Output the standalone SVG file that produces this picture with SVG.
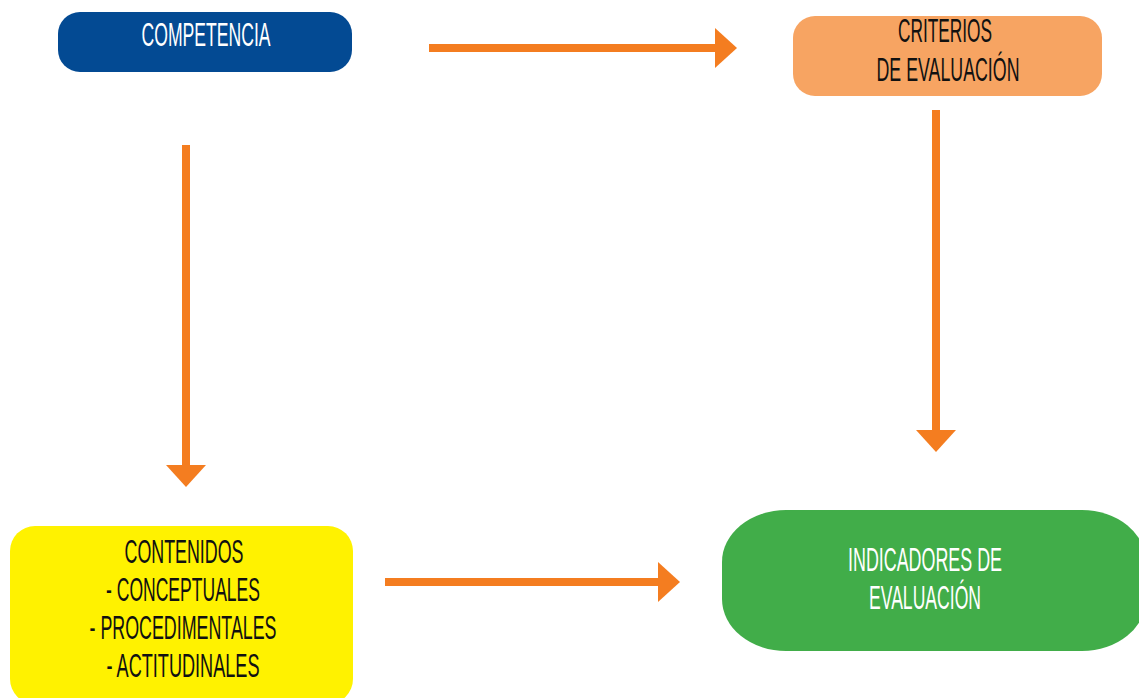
<svg xmlns="http://www.w3.org/2000/svg" width="1139" height="698" viewBox="0 0 1139 698">
  <style>
    .lbl { font-family: "Liberation Sans", Arial, sans-serif; font-size: 33px; text-anchor: middle; }
    .w { fill: #ffffff; }
    .k { fill: #111111; }
    .conn { stroke: #f47d20; stroke-width: 8; fill: none; }
  </style>
  <defs>
    <marker id="ah" markerUnits="userSpaceOnUse" markerWidth="22" markerHeight="40" refX="0" refY="20" orient="auto" overflow="visible">
      <path d="M0,0 L22,20 L0,40 Z" fill="#f47d20"/>
    </marker>
  </defs>
  <rect width="1139" height="698" fill="#ffffff"/>

  <g id="connectors">
    <path class="conn" d="M429,48 L715,48" marker-end="url(#ah)"/>
    <path class="conn" d="M186,145 L186,465" marker-end="url(#ah)"/>
    <path class="conn" d="M936,110 L936,430" marker-end="url(#ah)"/>
    <path class="conn" d="M385,582 L658,582" marker-end="url(#ah)"/>
  </g>

  <g id="competencia">
    <rect x="58" y="12" width="294" height="60" rx="22" ry="22" fill="#034a93"/>
    <text class="lbl w" x="206" y="46" textLength="129" lengthAdjust="spacingAndGlyphs">COMPETENCIA</text>
  </g>

  <g id="criterios">
    <rect x="793" y="16" width="309" height="80" rx="22" ry="22" fill="#f7a462"/>
    <text class="lbl k" x="945" y="42" textLength="94" lengthAdjust="spacingAndGlyphs">CRITERIOS</text>
    <text class="lbl k" x="948" y="81" textLength="143" lengthAdjust="spacingAndGlyphs">DE EVALUACIÓN</text>
  </g>

  <g id="contenidos">
    <rect x="10" y="526" width="343" height="178" rx="25" ry="25" fill="#fff200"/>
    <text class="lbl k" x="184" y="563" textLength="119" lengthAdjust="spacingAndGlyphs">CONTENIDOS</text>
    <text class="lbl k" x="183" y="601" textLength="154" lengthAdjust="spacingAndGlyphs">- CONCEPTUALES</text>
    <text class="lbl k" x="183" y="639" textLength="187" lengthAdjust="spacingAndGlyphs">- PROCEDIMENTALES</text>
    <text class="lbl k" x="183" y="677" textLength="153" lengthAdjust="spacingAndGlyphs">- ACTITUDINALES</text>
  </g>

  <g id="indicadores">
    <rect x="722" y="510" width="424" height="141" rx="64" ry="52" fill="#41ad49"/>
    <text class="lbl w" x="925" y="571" textLength="154" lengthAdjust="spacingAndGlyphs">INDICADORES DE</text>
    <text class="lbl w" x="925" y="609" textLength="112" lengthAdjust="spacingAndGlyphs">EVALUACIÓN</text>
  </g>
</svg>
